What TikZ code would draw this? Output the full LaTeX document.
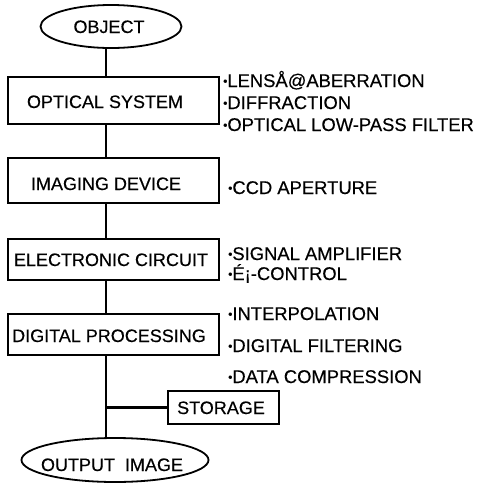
\documentclass[tikz,border=0pt]{standalone}
\usepackage{fontspec}
\setmainfont{Liberation Sans}[FakeBold=0.35]
\usetikzlibrary{shapes.geometric}
% small round list marker, centred on the capitals
\newcommand\listdot{\raisebox{1.8pt}{\fontsize{12}{12}\selectfont •}}
\begin{document}
\begin{tikzpicture}[x=1pt,y=-1pt,
  every node/.style={font=\fontsize{18}{21}\selectfont, inner sep=0pt},
  stagebox/.style={draw, line width=1.8pt, minimum width=211pt, minimum height=#1, rectangle},
  terminal/.style={draw, line width=1.8pt, ellipse},
  wire/.style={line width=2.4pt},
  note/.style={anchor=base west, font=\fontsize{18.4}{21}\selectfont}]
\useasboundingbox (0,0) rectangle (479,483);
\fill[white] (0,0) rectangle (479,483);

% spine of the flow
\coordinate (spine) at (106,0);

% terminals
\node[terminal, minimum width=141pt, minimum height=43pt] (obj) at (111,26.5) {};
\node[anchor=base] at (109,33) {OBJECT};

\node[terminal, minimum width=187pt, minimum height=44pt] (out) at (115,460) {};
\node[anchor=base] at (112,471) {OUTPUT\ \ IMAGE};

% processing stages
\node[stagebox=47pt] (opt) at (113.5,100.5) {};
\node[anchor=base] at (105,108) {OPTICAL SYSTEM};

\node[stagebox=45pt] (img) at (113.5,180.5) {};
\node[anchor=base] at (106,190) {IMAGING DEVICE};

\node[stagebox=41pt] (ele) at (113.5,259.5) {};
\node[anchor=base] at (111,266) {ELECTRONIC CIRCUIT};

\node[stagebox=41pt] (dig) at (113.5,334.5) {};
\node[anchor=base] at (109,342) {DIGITAL PROCESSING};

\node[draw, line width=1.8pt, minimum width=111pt, minimum height=33pt] (sto) at (223.5,407.5) {};
\node[anchor=base] at (221,414) {STORAGE};

% connectors
\draw[wire] (obj.south -| spine) -- (opt.north -| spine);
\draw[wire] (opt.south -| spine) -- (img.north -| spine);
\draw[wire] (img.south -| spine) -- (ele.north -| spine);
\draw[wire] (ele.south -| spine) -- (dig.north -| spine);
\draw[wire] (dig.south -| spine) -- (out.north -| spine);
\draw[wire] (spine |- sto.west) -- (sto.west);

% degradation factors
\node[note] at (223,87) {\listdot LENSÅ@ABERRATION};
\node[note] at (223,109) {\listdot DIFFRACTION};
\node[note] at (223,131) {\listdot OPTICAL LOW-PASS FILTER};
\node[note] at (228,194) {\listdot CCD APERTURE};
\node[note] at (228,260) {\listdot SIGNAL AMPLIFIER};
\node[note] at (228,280) {\listdot É¡-CONTROL};
\node[note] at (228,320) {\listdot INTERPOLATION};
\node[note] at (228,352) {\listdot DIGITAL FILTERING};
\node[note] at (228,383) {\listdot DATA COMPRESSION};
\end{tikzpicture}
\end{document}
